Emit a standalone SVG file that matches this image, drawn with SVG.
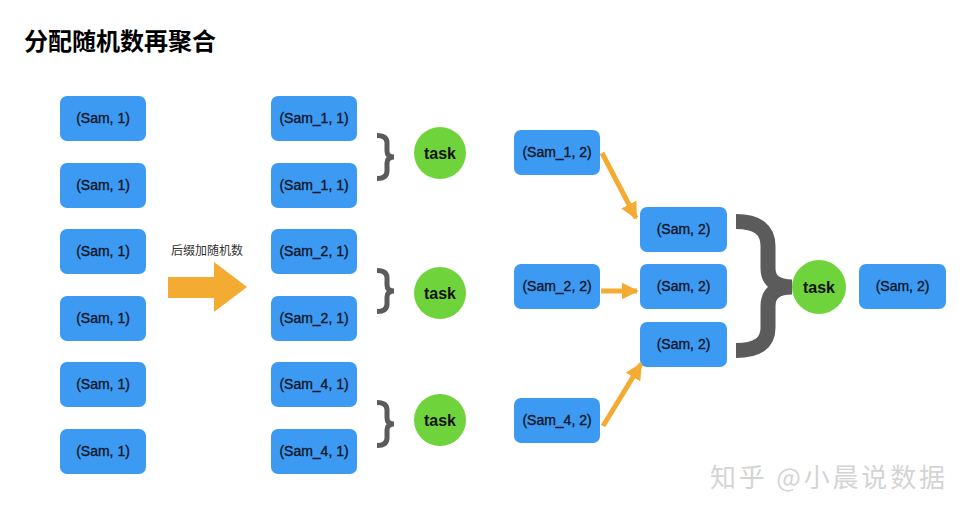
<svg xmlns="http://www.w3.org/2000/svg" width="971" height="516" viewBox="0 0 971 516">
<style>
.box{fill:#3d9af2;}
.bt{font-family:"Liberation Sans",Arial,sans-serif;font-size:14px;fill:#0f1526;stroke:#0f1526;stroke-width:0.35;text-anchor:middle;}
.task{fill:#6fd43b;}
.tt{font-family:"Liberation Sans",Arial,sans-serif;font-size:16px;font-weight:bold;fill:#111;text-anchor:middle;}
.br{fill:none;stroke:#5b5b5b;stroke-width:5;}
.ar{stroke:#f3ab31;stroke-width:5;fill:none;}
</style>
<defs>
<marker id="ah" viewBox="0 0 10 10" refX="9" refY="5" markerWidth="3.4" markerHeight="3.6" orient="auto" markerUnits="strokeWidth">
<path d="M0,0 L10,5 L0,10 Z" fill="#f3ab31"/>
</marker>
</defs>
<rect width="971" height="516" fill="#fff"/>
<text x="24" y="50" font-family="'Noto Sans CJK SC',sans-serif" font-size="24" font-weight="bold" fill="#000">分配随机数再聚合</text>

<g id="col1">
<g id="n1"><rect class="box" x="60" y="96" width="86" height="45" rx="7"/><text class="bt" x="103" y="123">(Sam, 1)</text></g>
<g id="n2"><rect class="box" x="60" y="163" width="86" height="45" rx="7"/><text class="bt" x="103" y="190">(Sam, 1)</text></g>
<g id="n3"><rect class="box" x="60" y="229" width="86" height="45" rx="7"/><text class="bt" x="103" y="256">(Sam, 1)</text></g>
<g id="n4"><rect class="box" x="60" y="296" width="86" height="45" rx="7"/><text class="bt" x="103" y="323">(Sam, 1)</text></g>
<g id="n5"><rect class="box" x="60" y="362" width="86" height="45" rx="7"/><text class="bt" x="103" y="389">(Sam, 1)</text></g>
<g id="n6"><rect class="box" x="60" y="429" width="86" height="45" rx="7"/><text class="bt" x="103" y="456">(Sam, 1)</text></g>
</g>

<g id="suffix">
<text x="207" y="255" font-family="'Noto Sans CJK SC',sans-serif" font-size="12" fill="#333" text-anchor="middle">后缀加随机数</text>
<path d="M168,277 L214,277 L214,262 L247,287 L214,312 L214,298 L168,298 Z" fill="#f3ab31"/>
</g>

<g id="col2">
<g id="m1"><rect class="box" x="271" y="96" width="86" height="45" rx="7"/><text class="bt" x="314" y="123">(Sam_1, 1)</text></g>
<g id="m2"><rect class="box" x="271" y="163" width="86" height="45" rx="7"/><text class="bt" x="314" y="190">(Sam_1, 1)</text></g>
<g id="m3"><rect class="box" x="271" y="229" width="86" height="45" rx="7"/><text class="bt" x="314" y="256">(Sam_2, 1)</text></g>
<g id="m4"><rect class="box" x="271" y="296" width="86" height="45" rx="7"/><text class="bt" x="314" y="323">(Sam_2, 1)</text></g>
<g id="m5"><rect class="box" x="271" y="362" width="86" height="45" rx="7"/><text class="bt" x="314" y="389">(Sam_4, 1)</text></g>
<g id="m6"><rect class="box" x="271" y="429" width="86" height="45" rx="7"/><text class="bt" x="314" y="456">(Sam_4, 1)</text></g>
</g>

<g id="braces">
<path class="br" d="M377,135.5 Q387,135.5 387,143 L387,151 Q387,157 394,157 Q387,157 387,163 L387,171 Q387,178.5 377,178.5"/>
<path class="br" d="M377,270.5 Q387,270.5 387,278 L387,285 Q387,291 394,291 Q387,291 387,297 L387,304 Q387,311.5 377,311.5"/>
<path class="br" d="M377,402.5 Q387,402.5 387,410 L387,418 Q387,424 394,424 Q387,424 387,430 L387,438 Q387,445.5 377,445.5"/>
<path d="M736,221.5 Q768,221.5 768,246 L768,268 Q768,287 792,287 Q768,287 768,306 L768,328 Q768,350.5 736,350.5" fill="none" stroke="#5b5b5b" stroke-width="15"/>
</g>

<g id="tasks">
<g id="t1"><circle class="task" cx="440" cy="153" r="26"/><text class="tt" x="440" y="159">task</text></g>
<g id="t2"><circle class="task" cx="440" cy="293" r="26"/><text class="tt" x="440" y="299">task</text></g>
<g id="t3"><circle class="task" cx="440" cy="420" r="26"/><text class="tt" x="440" y="426">task</text></g>
<g id="t4"><circle class="task" cx="819" cy="287" r="27"/><text class="tt" x="819" y="293">task</text></g>
</g>

<g id="col3">
<g id="p1"><rect class="box" x="514" y="130" width="86" height="45" rx="7"/><text class="bt" x="557" y="157">(Sam_1, 2)</text></g>
<g id="p2"><rect class="box" x="514" y="264" width="86" height="45" rx="7"/><text class="bt" x="557" y="291">(Sam_2, 2)</text></g>
<g id="p3"><rect class="box" x="514" y="398" width="86" height="45" rx="7"/><text class="bt" x="557" y="425">(Sam_4, 2)</text></g>
</g>

<g id="col4">
<g id="q1"><rect class="box" x="640" y="207" width="87" height="45" rx="7"/><text class="bt" x="683.5" y="234">(Sam, 2)</text></g>
<g id="q2"><rect class="box" x="640" y="264" width="87" height="45" rx="7"/><text class="bt" x="683.5" y="291">(Sam, 2)</text></g>
<g id="q3"><rect class="box" x="640" y="322" width="87" height="45" rx="7"/><text class="bt" x="683.5" y="349">(Sam, 2)</text></g>
</g>

<g id="result"><rect class="box" x="859" y="264" width="87" height="45" rx="7"/><text class="bt" x="902.5" y="291">(Sam, 2)</text></g>

<g id="connectors">
<line class="ar" x1="602" y1="153" x2="636" y2="218" marker-end="url(#ah)"/>
<line class="ar" x1="601" y1="291" x2="637" y2="291" marker-end="url(#ah)"/>
<line class="ar" x1="603" y1="426" x2="641" y2="364" marker-end="url(#ah)"/>
</g>

<text x="710" y="487" font-family="'Noto Sans CJK SC',sans-serif" font-size="26" fill="#d4d4d4" textLength="235" lengthAdjust="spacing">知乎 @小晨说数据</text>
</svg>
